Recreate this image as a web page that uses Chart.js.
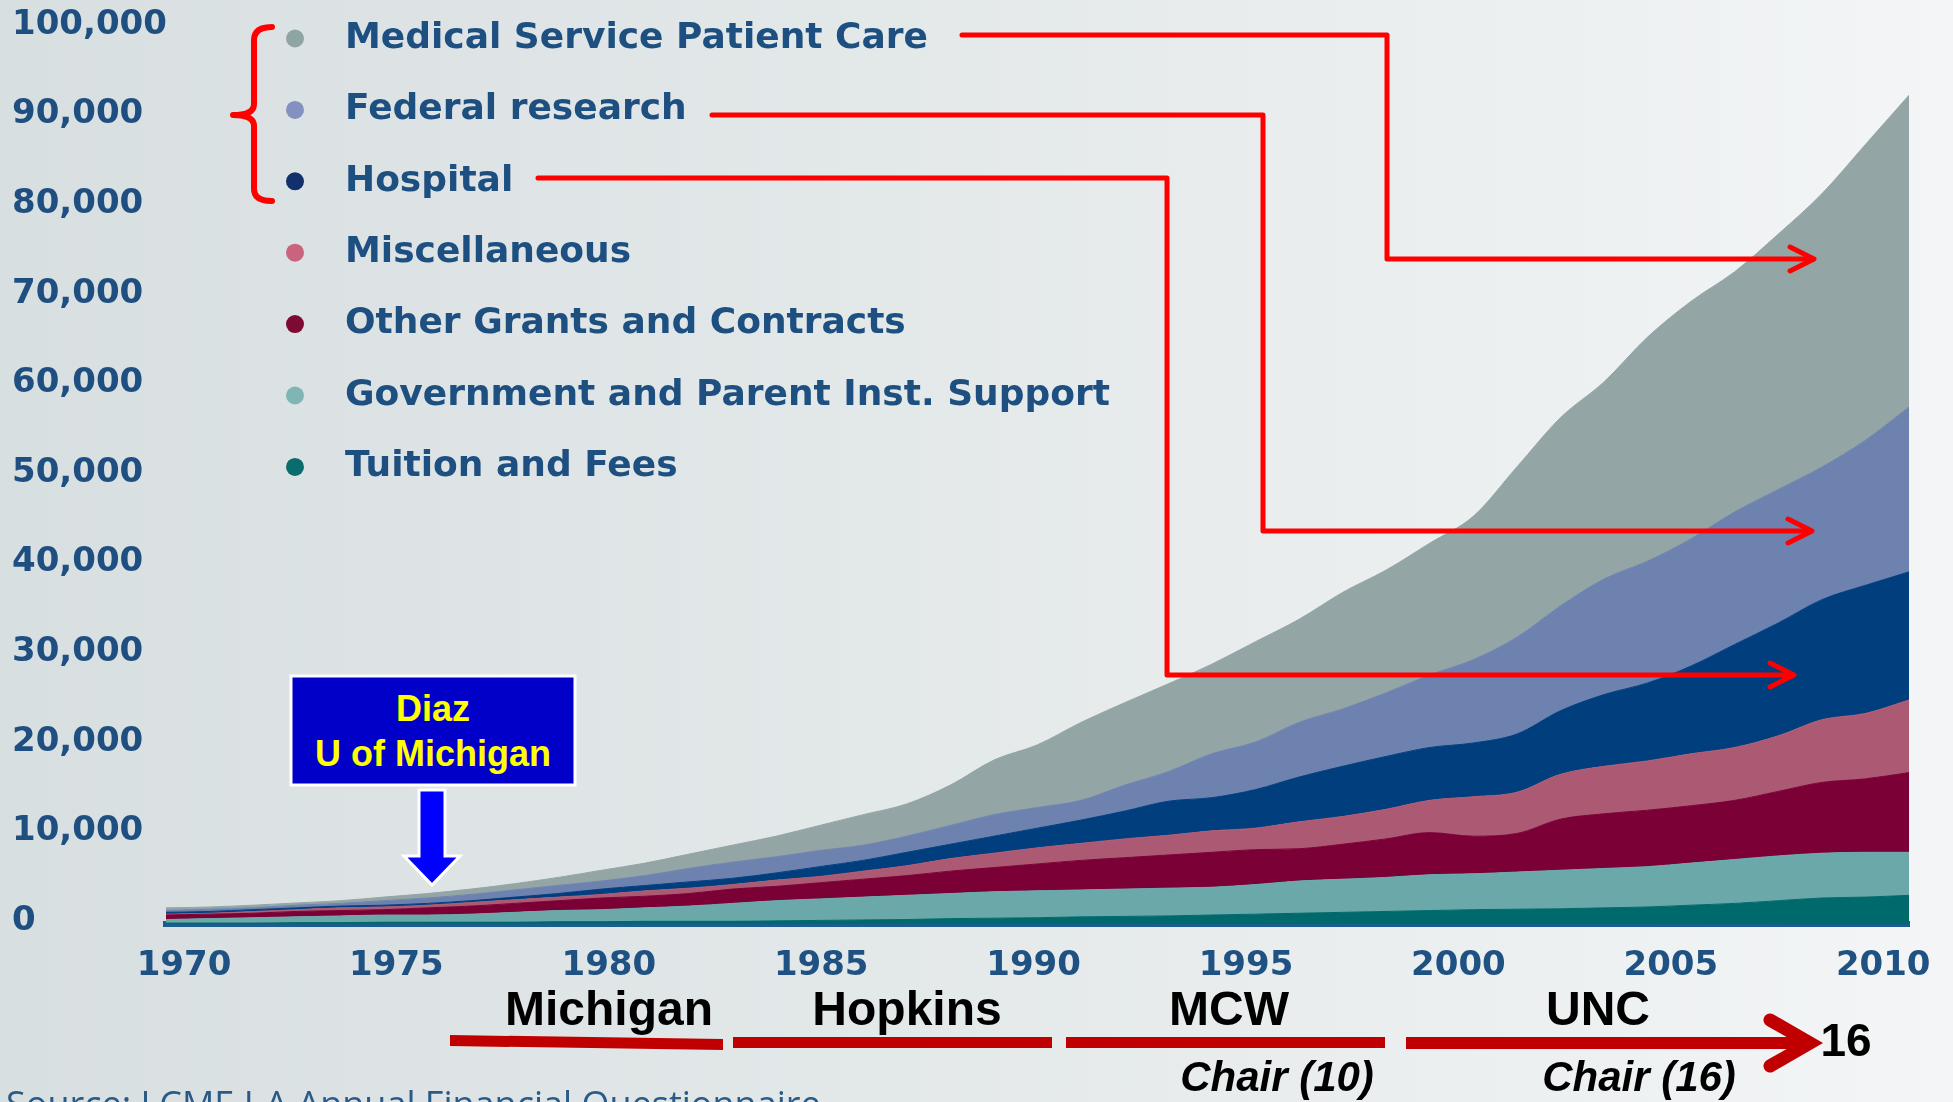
<!DOCTYPE html>
<html>
<head>
<meta charset="utf-8">
<title>Medical school revenue 1970-2010</title>
<script src="https://cdn.jsdelivr.net/npm/chart.js@4.4.1/dist/chart.umd.min.js"></script>
<style>
  html, body { margin: 0; padding: 0; }
  body {
    width: 1953px; height: 1102px; overflow: hidden; position: relative;
    background: linear-gradient(to right, #d8dfe1 0%, #e3e8e9 45%, #f3f5f6 100%);
    font-family: 'Liberation Sans', Arial, sans-serif;
  }
  #revenue-chart { position: absolute; left: 0; top: 0; }
  svg.overlay { position: absolute; left: 0; top: 0; pointer-events: none; }
  .lbl { position: absolute; white-space: nowrap; line-height: 1; font-weight: bold; transform: translate(-50%, -50%); }
  .inst { font-size: 48px; color: #000; }
  .chair { font-size: 42px; color: #000; font-style: italic; }
  .diaz { font-size: 36px; color: #ffff00; }
  .source { position: absolute; left: 6px; top: 1086px; font-family: 'Open Sans', sans-serif; font-size: 36px; line-height: 1; color: #2a5a86; white-space: nowrap; }
</style>
</head>
<body>
<canvas id="revenue-chart" width="1953" height="1102"></canvas>

<svg class="overlay" width="1953" height="1102">
  <!-- bracket + connectors to the three big sources -->
  <g fill="none" stroke="#ff0000" stroke-width="5" stroke-linecap="round" stroke-linejoin="round">
    <path d="M272,27 Q254,27 254,40 L254,104 Q254,115 233,115 Q254,115 254,126 L254,189 Q254,201 272,201" stroke-width="6"/>
    <polyline points="962,35 1387,35 1387,259 1812,259"/>
    <polyline points="1790,247 1814,259 1790,271"/>
    <polyline points="712,115 1263,115 1263,531 1810,531"/>
    <polyline points="1788,519 1812,531 1788,543"/>
    <polyline points="538,178 1167,178 1167,675 1792,675"/>
    <polyline points="1770,663 1794,675 1770,687"/>
  </g>
  <!-- Diaz box and arrow -->
  <rect x="291" y="676" width="284" height="109" fill="#0000c8" stroke="#ffffff" stroke-width="3"/>
  <polygon points="419,790 445,790 445,856 460,856 432,885 404,856 419,856" fill="#0000ff" stroke="#ffffff" stroke-width="3"/>
  <!-- career timeline -->
  <g fill="#c00000">
    <polygon points="450,1035 723,1039 723,1050 450,1046"/>
    <rect x="733" y="1037" width="319" height="11"/>
    <rect x="1066" y="1037" width="319" height="11"/>
    <rect x="1406" y="1037" width="392" height="12"/>
  </g>
  <polyline points="1770,1020 1810,1043 1770,1066" fill="none" stroke="#c00000" stroke-width="13" stroke-linecap="round" stroke-linejoin="miter"/>
</svg>

<div class="lbl diaz" style="left:433px; top:709px;">Diaz</div>
<div class="lbl diaz" style="left:433px; top:754px;">U of Michigan</div>
<div class="lbl inst" style="left:609px; top:1009px;">Michigan</div>
<div class="lbl inst" style="left:907px; top:1009px;">Hopkins</div>
<div class="lbl inst" style="left:1229px; top:1009px;">MCW</div>
<div class="lbl inst" style="left:1598px; top:1009px;">UNC</div>
<div class="lbl chair" style="left:1277px; top:1077px;">Chair (10)</div>
<div class="lbl chair" style="left:1639px; top:1077px;">Chair (16)</div>
<div class="lbl inst" style="left:1846px; top:1040px; font-size:46px;">16</div>
<div class="source">Source: LCME I-A Annual Financial Questionnaire</div>

<script>
// years on the x axis
const years = [1970, 1971, 1972, 1973, 1974, 1975, 1976, 1977, 1978, 1979,
  1980, 1981, 1982, 1983, 1984, 1985, 1986, 1987, 1988, 1989,
  1990, 1991, 1992, 1993, 1994, 1995, 1996, 1997, 1998, 1999,
  2000, 2001, 2002, 2003, 2004, 2005, 2006, 2007, 2008, 2009, 2010];

// revenue by source
const tuitionFees = [100, 100, 100, 150, 150, 200, 200, 200, 200, 250,
  250, 300, 300, 300, 350, 400, 450, 500, 600, 650,
  700, 800, 850, 900, 1000, 1100, 1200, 1300, 1400, 1500,
  1600, 1650, 1700, 1800, 1900, 2100, 2300, 2600, 2900, 3000, 3200];
const govSupport = [400, 500, 600, 650, 750, 800, 800, 900, 1100, 1250,
  1350, 1500, 1700, 2000, 2250, 2400, 2550, 2700, 2800, 2950,
  3000, 3000, 3050, 3100, 3100, 3300, 3600, 3700, 3800, 4000,
  4000, 4150, 4300, 4400, 4500, 4700, 4900, 5000, 5000, 5000, 4800];
const otherGrants = [500, 500, 500, 600, 600, 600, 800, 900, 1000, 1100,
  1300, 1300, 1400, 1600, 1600, 1800, 2000, 2200, 2500, 2700,
  3000, 3300, 3500, 3700, 3900, 3900, 3600, 3900, 4300, 4700,
  4200, 4300, 5700, 6100, 6300, 6400, 6600, 7200, 7900, 8200, 8900];
const miscellaneous = [100, 100, 200, 200, 300, 300, 300, 400, 400, 400,
  400, 600, 600, 500, 700, 700, 900, 1100, 1400, 1600,
  1800, 1900, 2100, 2200, 2400, 2400, 3000, 3100, 3300, 3600,
  4400, 4600, 5000, 5300, 5500, 5800, 5900, 6200, 7000, 7300, 8100];
const hospital = [200, 200, 200, 200, 200, 200, 200, 200, 300, 400,
  600, 600, 700, 700, 800, 1100, 1200, 1500, 1600, 1900,
  2200, 2600, 3100, 3800, 3700, 4300, 5000, 5600, 5900, 5900,
  6000, 6500, 7100, 8000, 8700, 9800, 11500, 12600, 13400, 14300, 14300];
const federalResearch = [200, 250, 200, 300, 300, 500, 600, 700, 800, 900,
  900, 1100, 1500, 1800, 1800, 1800, 1700, 1800, 2100, 2400,
  2300, 2200, 2900, 3300, 4900, 5300, 6100, 6400, 7100, 8100,
  9300, 10800, 11700, 12900, 13600, 14200, 14800, 14900, 14800, 16200, 18400];
const medicalService = [300, 250, 300, 250, 300, 400, 500, 600, 700, 900,
  1200, 1400, 1600, 1900, 2300, 2800, 3400, 3600, 4500, 6100,
  7000, 8700, 9200, 9800, 10000, 11200, 11500, 13000, 13700, 14700,
  16000, 19000, 21000, 22000, 25000, 26500, 26800, 28500, 30500, 33000, 34800];

// tick values
const yTicks = [0, 10000, 20000, 30000, 40000, 50000, 60000, 70000, 80000, 90000, 100000];
const yearTicks = [1970, 1975, 1980, 1985, 1990, 1995, 2000, 2005, 2010];

Chart.defaults.font.family = '"DejaVu Sans", sans-serif';

function area(label, values, color, dot, fill) {
  return {
    label: label,
    data: values,
    backgroundColor: color,
    borderColor: color,
    borderWidth: 1,
    dotColor: dot,
    fill: fill,
    pointRadius: 0,
    cubicInterpolationMode: 'monotone'
  };
}

// side legend drawn from the datasets, top series first
const sideLegend = {
  id: 'sideLegend',
  afterDraw(chart) {
    const ctx = chart.ctx;
    const items = chart.data.datasets.slice().reverse();
    ctx.save();
    ctx.font = 'bold 36px "DejaVu Sans"';
    ctx.textBaseline = 'middle';
    ctx.textAlign = 'left';
    items.forEach((ds, i) => {
      const y = 38.5 + i * 71.4;
      ctx.fillStyle = ds.dotColor;
      ctx.beginPath();
      ctx.arc(295, y, 9, 0, Math.PI * 2);
      ctx.fill();
      ctx.fillStyle = '#1d4f80';
      ctx.fillText(ds.label, 345, y);
    });
    ctx.restore();
  }
};

var ctx = document.getElementById('revenue-chart');
new Chart(ctx, {
  type: 'line',
  data: {
    labels: years,
    datasets: [
      area('Tuition and Fees', tuitionFees, '#00696b', '#0b6c6e', 'origin'),
      area('Government and Parent Inst. Support', govSupport, '#6aa8aa', '#7fb5b5', '-1'),
      area('Other Grants and Contracts', otherGrants, '#7b0035', '#7d0a33', '-1'),
      area('Miscellaneous', miscellaneous, '#ac5a73', '#c8647e', '-1'),
      area('Hospital', hospital, '#003e7e', '#12306b', '-1'),
      area('Federal research', federalResearch, '#6e82b0', '#8491c0', '-1'),
      area('Medical Service Patient Care', medicalService, '#93a5a5', '#8ea5a3', '-1')
    ]
  },
  options: {
    responsive: false,
    animation: false,
    layout: { padding: { left: 12, top: 28, right: 44, bottom: 0 } },
    plugins: {
      legend: { display: false },
      tooltip: { enabled: false }
    },
    scales: {
      x: { type: 'linear', min: 1970, max: 2010, display: false },
      yearAxis: {
        type: 'linear',
        position: 'bottom',
        bounds: 'data',
        min: 1969.576,
        max: 2010.607,
        z: 1,
        grid: { display: false },
        border: { display: true, width: 6, color: '#1b5d8f' },
        afterBuildTicks: s => { s.ticks = yearTicks.map(v => ({ value: v })); },
        ticks: {
          autoSkip: false,
          maxRotation: 0,
          padding: 14,
          color: '#1f5282',
          font: { size: 34, weight: 'bold' },
          callback: v => String(v)
        },
        afterFit: s => { s.height = 178; s.paddingLeft = 0; s.paddingRight = 0; }
      },
      y: {
        stacked: true,
        min: 0,
        max: 100000,
        grid: { display: false },
        border: { display: false },
        afterBuildTicks: s => { s.ticks = yTicks.map(v => ({ value: v })); },
        ticks: {
          crossAlign: 'far',
          labelOffset: -3,
          color: '#1f4f80',
          font: { size: 34, weight: 'bold' }
        },
        afterFit: s => { s.width = 154; }
      }
    }
  },
  plugins: [sideLegend]
});
</script>
</body>
</html>
